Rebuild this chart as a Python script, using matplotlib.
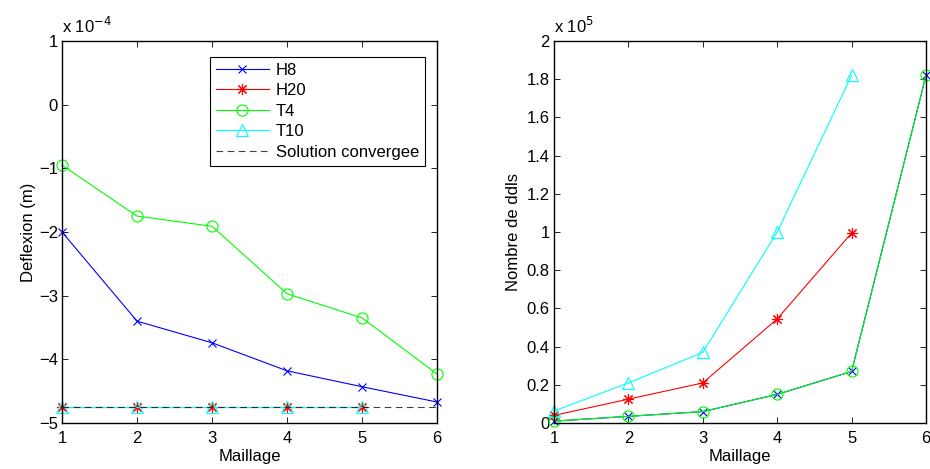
import matplotlib.pyplot as plt
import numpy as np

plt.rcParams['font.family'] = ['Liberation Sans', 'DejaVu Sans']
plt.rcParams['font.size'] = 12

# data
maillage = [1, 2, 3, 4, 5, 6]
maillage5 = [1, 2, 3, 4, 5]

# deflexion (x 1e-4 m)
defl_h8 = [-2.0, -3.40, -3.74, -4.18, -4.43, -4.67]
defl_h20 = [-4.75, -4.75, -4.75, -4.75, -4.75]
defl_t4 = [-0.95, -1.75, -1.91, -2.97, -3.35, -4.23]
defl_t10 = [-4.75, -4.75, -4.75, -4.75, -4.75]
defl_conv = -4.75

# nombre de ddls (x 1e5)
ddl_h8 = [0.01, 0.035, 0.06, 0.15, 0.27, 1.82]
ddl_h20 = [0.04, 0.125, 0.21, 0.545, 0.995]
ddl_t4 = [0.01, 0.035, 0.06, 0.15, 0.27, 1.82]
ddl_t10 = [0.063, 0.21, 0.37, 1.0, 1.82]

asterisk = (8, 2, 0)
lw = 0.8
ms = 8
vert = (0, 1, 0)
cyan = (0, 1, 1)

fig = plt.figure(figsize=(9.3, 4.69), dpi=100)
ax1 = fig.add_axes([0.0667, 0.098, 0.4033, 0.8146])
ax2 = fig.add_axes([0.5957, 0.098, 0.4000, 0.8146])

# --- gauche
ax1.plot(maillage, defl_h8, color='b', marker='x', lw=lw, ms=ms - 2, mew=0.8, label='H8')
ax1.plot(maillage5, defl_h20, color='r', marker=asterisk, lw=lw, ms=ms, mew=0.8, label='H20')
ax1.plot(maillage, defl_t4, color=vert, marker='o', mfc='none', lw=lw, ms=ms, mew=0.8, label='T4')
ax1.plot(maillage5, defl_t10, color=cyan, marker='^', mfc='none', lw=lw, ms=ms, mew=0.8, label='T10')
ax1.plot([1, 6], [defl_conv, defl_conv], color='k', ls=(0, (6, 4)), lw=lw, alpha=0.75,
         label='Solution convergee')
ax1.set_xlim(1, 6)
ax1.set_ylim(-5, 1)
ax1.set_xticks(maillage)
ax1.set_yticks(np.arange(-5, 2, 1))
ax1.set_yticklabels(['\u22125', '\u22124', '\u22123', '\u22122', '\u22121', '0', '1'])
ax1.set_xlabel('Maillage', labelpad=2)
ax1.set_ylabel('Deflexion (m)', labelpad=2)
ax1.text(0.0, 1.012, r'x 10$^{-4}$', transform=ax1.transAxes, ha='left', va='bottom')
leg = ax1.legend(loc='upper left', bbox_to_anchor=(0.372, 0.98), fancybox=False,
                 edgecolor='k', framealpha=1, handlelength=3.2, borderpad=0.35,
                 labelspacing=0.33, handletextpad=0.4)
leg.get_frame().set_linewidth(0.8)

# --- droite
ax2.plot(maillage, ddl_h8, color='b', marker='x', lw=lw, ms=ms - 2, mew=0.8)
ax2.plot(maillage5, ddl_h20, color='r', marker=asterisk, lw=lw, ms=ms, mew=0.8)
ax2.plot(maillage, ddl_t4, color=vert, marker='o', mfc='none', lw=lw, ms=ms, mew=0.8)
ax2.plot(maillage5, ddl_t10, color=cyan, marker='^', mfc='none', lw=lw, ms=ms, mew=0.8)
ax2.set_xlim(1, 6)
ax2.set_ylim(0, 2)
ax2.set_xticks(maillage)
ax2.set_yticks(np.arange(0, 2.01, 0.2))
ax2.set_yticklabels(['0', '0.2', '0.4', '0.6', '0.8', '1', '1.2', '1.4', '1.6', '1.8', '2'])
ax2.set_xlabel('Maillage', labelpad=2)
ax2.set_ylabel('Nombre de ddls', labelpad=4)
ax2.text(0.0, 1.012, r'x 10$^{5}$', transform=ax2.transAxes, ha='left', va='bottom')

for ax in (ax1, ax2):
    ax.tick_params(direction='in', top=True, right=True, length=4, width=0.6, pad=3)
    ax.tick_params(axis='x', pad=6)
    for s in ax.spines.values():
        s.set_linewidth(1.0)
    for m in ax.lines:
        m.set_clip_on(False)

fig.savefig('out.png', dpi=100)
